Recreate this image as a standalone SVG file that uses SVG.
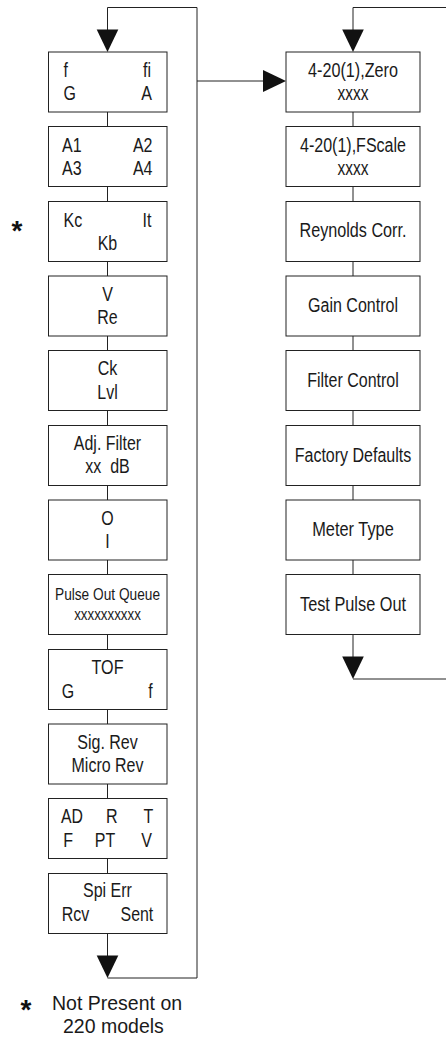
<svg xmlns="http://www.w3.org/2000/svg" width="446" height="1037" viewBox="0 0 446 1037">
<style>
.box{fill:#fff;stroke:#222;stroke-width:1}
.ln{fill:none;stroke:#222;stroke-width:1}
.ah{fill:#111}
.t{font-family:"Liberation Sans",Arial,sans-serif;font-size:19.5px;fill:#1a1a1a}
.s{font-size:17px}
.n{font-family:"Liberation Sans",Arial,sans-serif;font-size:19.5px;fill:#1a1a1a}
.star{font-family:"Liberation Sans",Arial,sans-serif;font-size:28px;font-weight:bold;fill:#111;text-anchor:middle}
.m{text-anchor:middle}
.e{text-anchor:end}
</style>
<defs>
<polygon id="ad" points="-10.8,0 10.8,0 0,22.5"/>
<polygon id="ar" points="0,-11 0,11 23,0"/>
</defs>
<rect width="446" height="1037" fill="#fff"/>
<g id="connectors">
<path class="ln" d="M107.5,30 V7.5 H197 V978 H107.5"/>
<path class="ln" d="M197,81 H264"/>
<path class="ln" d="M353,30 V7.5 H446"/>
<path class="ln" d="M353,679 H446"/>
<path class="ln" d="M107.5,112 V126.5 M107.5,186.5 V201.5 M107.5,261.5 V276 M107.5,336 V350.5 M107.5,410.5 V425.5 M107.5,485.5 V500 M107.5,560 V574.5 M107.5,634.5 V649.5 M107.5,709.5 V724 M107.5,784 V798.5 M107.5,858.5 V873.5 M107.5,933.5 V956"/>
<path class="ln" d="M353,112 V126.5 M353,186.5 V201.5 M353,261.5 V276 M353,336 V350.5 M353,410.5 V425.5 M353,485.5 V500 M353,560 V574.5 M353,634.5 V657"/>
<use href="#ad" class="ah" x="107.5" y="29.5"/>
<use href="#ad" class="ah" x="353" y="29.5"/>
<use href="#ad" class="ah" x="107.5" y="955.5"/>
<use href="#ad" class="ah" x="353" y="656.5"/>
<use href="#ar" class="ah" x="263" y="81"/>
</g>
<g id="n1"><rect class="box" x="48.5" y="52" width="118.5" height="60"/>
<text class="t" x="63.5" y="77" textLength="4.4" lengthAdjust="spacingAndGlyphs">f</text><text class="t e" x="151" y="77" textLength="8" lengthAdjust="spacingAndGlyphs">fi</text>
<text class="t" x="63.5" y="100" textLength="12.4" lengthAdjust="spacingAndGlyphs">G</text><text class="t e" x="152" y="100" textLength="10.7" lengthAdjust="spacingAndGlyphs">A</text></g>
<g id="n2"><rect class="box" x="48.5" y="126.5" width="118.5" height="60"/>
<text class="t" x="62" y="151.5" textLength="19.6" lengthAdjust="spacingAndGlyphs">A1</text><text class="t e" x="152.5" y="151.5" textLength="19.6" lengthAdjust="spacingAndGlyphs">A2</text>
<text class="t" x="62" y="174.5" textLength="19.6" lengthAdjust="spacingAndGlyphs">A3</text><text class="t e" x="152.5" y="174.5" textLength="19.6" lengthAdjust="spacingAndGlyphs">A4</text></g>
<g id="n3"><rect class="box" x="48.5" y="201.5" width="118.5" height="60"/>
<text class="t" x="63.5" y="226.5" textLength="18.7" lengthAdjust="spacingAndGlyphs">Kc</text><text class="t e" x="151.5" y="226.5" textLength="8.9" lengthAdjust="spacingAndGlyphs">It</text>
<text class="t m" x="107.5" y="249.5" textLength="19.6" lengthAdjust="spacingAndGlyphs">Kb</text></g>
<g id="n4"><rect class="box" x="48.5" y="276" width="118.5" height="60"/>
<text class="t m" x="107.5" y="300.5" textLength="10.7" lengthAdjust="spacingAndGlyphs">V</text><text class="t m" x="107.5" y="324" textLength="20.4" lengthAdjust="spacingAndGlyphs">Re</text></g>
<g id="n5"><rect class="box" x="48.5" y="350.5" width="118.5" height="60"/>
<text class="t m" x="107.5" y="375" textLength="19.6" lengthAdjust="spacingAndGlyphs">Ck</text><text class="t m" x="107.5" y="398.5" textLength="20.4" lengthAdjust="spacingAndGlyphs">Lvl</text></g>
<g id="n6"><rect class="box" x="48.5" y="425.5" width="118.5" height="60"/>
<text class="t m" x="107.5" y="449.5" textLength="67.3" lengthAdjust="spacingAndGlyphs">Adj. Filter</text><text class="t m" x="107.5" y="473" xml:space="preserve" textLength="44.5" lengthAdjust="spacingAndGlyphs">xx  dB</text></g>
<g id="n7"><rect class="box" x="48.5" y="500" width="118.5" height="60"/>
<text class="t m" x="107.5" y="524.5" textLength="12.4" lengthAdjust="spacingAndGlyphs">O</text><text class="t m" x="107.5" y="548" textLength="4.4" lengthAdjust="spacingAndGlyphs">I</text></g>
<g id="n8"><rect class="box" x="48.5" y="574.5" width="118.5" height="60"/>
<text class="t s m" x="107.5" y="600" textLength="105" lengthAdjust="spacingAndGlyphs">Pulse Out Queue</text><text class="t s m" x="107.5" y="620" textLength="66.7" lengthAdjust="spacingAndGlyphs">xxxxxxxxxx</text></g>
<g id="n9"><rect class="box" x="48.5" y="649.5" width="118.5" height="60"/>
<text class="t m" x="107.5" y="673.5" textLength="32" lengthAdjust="spacingAndGlyphs">TOF</text>
<text class="t" x="61.7" y="697.5" textLength="12.4" lengthAdjust="spacingAndGlyphs">G</text><text class="t e" x="152.7" y="697.5" textLength="4.4" lengthAdjust="spacingAndGlyphs">f</text></g>
<g id="n10"><rect class="box" x="48.5" y="724" width="118.5" height="60"/>
<text class="t m" x="107.5" y="748.5" textLength="60.5" lengthAdjust="spacingAndGlyphs">Sig. Rev</text><text class="t m" x="107.5" y="772" textLength="72" lengthAdjust="spacingAndGlyphs">Micro Rev</text></g>
<g id="n11"><rect class="box" x="48.5" y="798.5" width="118.5" height="60"/>
<text class="t" x="61" y="823" textLength="22" lengthAdjust="spacingAndGlyphs">AD</text><text class="t m" x="111.7" y="823" textLength="11.6" lengthAdjust="spacingAndGlyphs">R</text><text class="t m" x="148.3" y="823" textLength="9.8" lengthAdjust="spacingAndGlyphs">T</text>
<text class="t" x="63.3" y="846.5" textLength="9.8" lengthAdjust="spacingAndGlyphs">F</text><text class="t m" x="105" y="846.5" textLength="20.4" lengthAdjust="spacingAndGlyphs">PT</text><text class="t m" x="146.7" y="846.5" textLength="10.7" lengthAdjust="spacingAndGlyphs">V</text></g>
<g id="n12"><rect class="box" x="48.5" y="873.5" width="118.5" height="60"/>
<text class="t m" x="107.5" y="897" textLength="48.9" lengthAdjust="spacingAndGlyphs">Spi Err</text>
<text class="t" x="61.7" y="920.5" textLength="27.6" lengthAdjust="spacingAndGlyphs">Rcv</text><text class="t e" x="153.3" y="920.5" textLength="32.8" lengthAdjust="spacingAndGlyphs">Sent</text></g>
<g id="r1"><rect class="box" x="286" y="52" width="134" height="60"/>
<text class="t m" x="353" y="77.3" textLength="90" lengthAdjust="spacingAndGlyphs">4-20(1),Zero</text><text class="t m" x="353" y="100" textLength="31" lengthAdjust="spacingAndGlyphs">xxxx</text></g>
<g id="r2"><rect class="box" x="286" y="126.5" width="134" height="60"/>
<text class="t m" x="353" y="151.5" textLength="106" lengthAdjust="spacingAndGlyphs">4-20(1),FScale</text><text class="t m" x="353" y="174.5" textLength="31" lengthAdjust="spacingAndGlyphs">xxxx</text></g>
<g id="r3"><rect class="box" x="286" y="201.5" width="134" height="60"/>
<text class="t m" x="353" y="237" textLength="107" lengthAdjust="spacingAndGlyphs">Reynolds Corr.</text></g>
<g id="r4"><rect class="box" x="286" y="276" width="134" height="60"/>
<text class="t m" x="353" y="312" textLength="90" lengthAdjust="spacingAndGlyphs">Gain Control</text></g>
<g id="r5"><rect class="box" x="286" y="350.5" width="134" height="60"/>
<text class="t m" x="353" y="386.5" textLength="91.6" lengthAdjust="spacingAndGlyphs">Filter Control</text></g>
<g id="r6"><rect class="box" x="286" y="425.5" width="134" height="60"/>
<text class="t m" x="353" y="461.5" textLength="116.6" lengthAdjust="spacingAndGlyphs">Factory Defaults</text></g>
<g id="r7"><rect class="box" x="286" y="500" width="134" height="60"/>
<text class="t m" x="353" y="536" textLength="81.5" lengthAdjust="spacingAndGlyphs">Meter Type</text></g>
<g id="r8"><rect class="box" x="286" y="574.5" width="134" height="60"/>
<text class="t m" x="353" y="611" textLength="106" lengthAdjust="spacingAndGlyphs">Test Pulse Out</text></g>
<g id="notes">
<text class="star" x="17" y="240">*</text>
<text class="star" x="26" y="1019">*</text>
<text class="n" x="52" y="1010">Not Present on</text>
<text class="n" x="63" y="1033">220 models</text>
</g>
</svg>
